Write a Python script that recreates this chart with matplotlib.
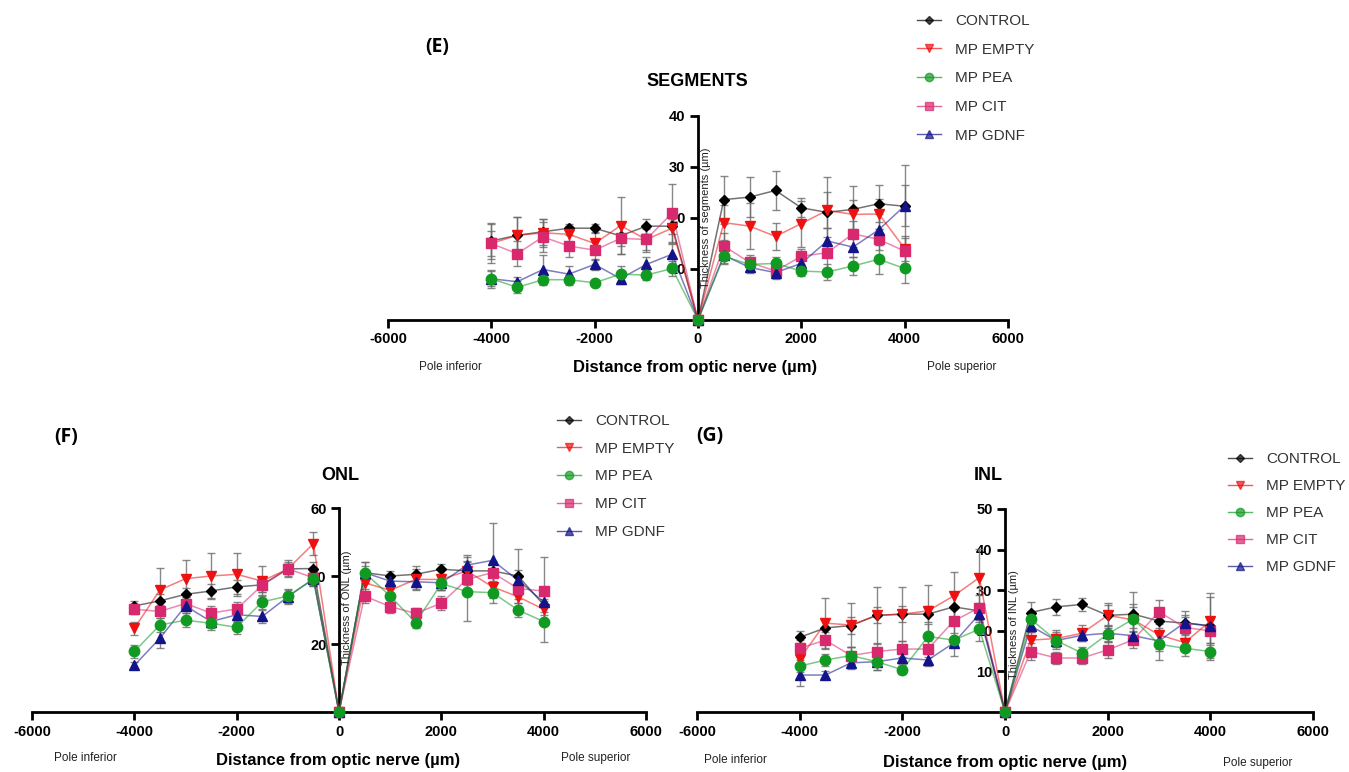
import matplotlib
matplotlib.use("Agg")
import matplotlib.pyplot as plt
from matplotlib.lines import Line2D
import numpy as np

W, H = 1349, 772

distance = [-4000, -3500, -3000, -2500, -2000, -1500, -1000, -500, 0,
            500, 1000, 1500, 2000, 2500, 3000, 3500, 4000]
groups = ["CONTROL", "MP EMPTY", "MP PEA", "MP CIT", "MP GDNF"]

# Panel E - SEGMENTS
seg_control = [15.5, 16.6, 17.3, 18.0, 18.0, 16.5, 18.4, 18.4, 0, 23.6, 24.1, 25.4, 22.0, 21.1, 21.7, 22.8, 22.3]
seg_control_sd = [3.5, 3.5, 2.5, 0.5, 0.8, 2.0, 1.5, 1.5, 0, 4.7, 4.0, 3.9, 1.9, 7.0, 4.5, 3.6, 8.0]
seg_empty = [15.0, 16.6, 17.1, 16.8, 15.0, 18.5, 15.8, 18.0, 0, 19.1, 18.4, 16.4, 18.9, 21.5, 20.7, 20.8, 14.0]
seg_empty_sd = [2.5, 3.6, 2.8, 2.0, 2.0, 5.6, 2.5, 3.0, 0, 3.5, 4.5, 2.6, 4.5, 3.5, 2.8, 3.0, 2.5]
seg_pea = [8.1, 6.4, 7.9, 7.9, 7.3, 9.0, 8.8, 10.1, 0, 12.5, 10.9, 11.1, 9.6, 9.4, 10.6, 11.9, 10.1]
seg_pea_sd = [1.5, 1.2, 1.0, 1.0, 0.6, 1.5, 1.0, 1.5, 0, 1.5, 1.2, 1.2, 1.0, 1.6, 1.8, 2.8, 2.8]
seg_cit = [15.0, 13.0, 16.3, 14.5, 13.7, 16.0, 15.8, 21.0, 0, 14.5, 11.3, 9.6, 12.5, 13.2, 16.9, 15.8, 13.5]
seg_cit_sd = [3.8, 2.5, 3.0, 2.2, 2.0, 3.0, 2.0, 5.7, 0, 2.5, 1.5, 1.2, 1.5, 3.0, 2.5, 2.0, 2.5]
seg_gdnf = [8.1, 7.5, 9.9, 9.0, 10.9, 8.1, 10.9, 12.9, 0, 12.7, 10.3, 9.3, 11.1, 15.5, 14.3, 17.7, 22.4]
seg_gdnf_sd = [1.8, 1.0, 2.8, 1.6, 1.0, 1.0, 1.5, 2.0, 0, 1.5, 1.0, 1.2, 1.5, 2.5, 2.0, 3.0, 4.0]

# Panel F - ONL
onl_control = [31.2, 32.7, 34.6, 35.6, 36.8, 37.4, 42.1, 42.2, 0, 41.0, 40.0, 40.5, 42.0, 41.5, 41.5, 40.0, 31.5]
onl_control_sd = [1.5, 2, 2, 2, 2, 2, 1.5, 2, 0, 3, 1.5, 2.5, 1.5, 3, 3, 8, 3]
onl_empty = [24.6, 35.9, 39.2, 40.0, 40.5, 38.5, 42.1, 49.5, 0, 38.0, 35.8, 39.0, 39.0, 41.5, 36.8, 33.9, 30.2]
onl_empty_sd = [2, 6.5, 5.5, 6.8, 6.3, 4.4, 2.5, 3.4, 0, 3, 2.5, 3, 3, 4, 3, 3, 3]
onl_pea = [17.8, 25.6, 27.0, 26.1, 24.9, 32.4, 34.1, 39.0, 0, 41.0, 34.1, 26.3, 37.8, 35.4, 35.1, 30.0, 26.6]
onl_pea_sd = [2, 2, 2, 2, 2, 2, 2, 2, 0, 2, 2, 1.5, 2, 8.6, 3, 2, 6]
onl_cit = [30.2, 29.6, 31.9, 29.1, 30.3, 37.3, 42.1, 39.5, 0, 34.1, 31.0, 29.0, 32.0, 39.0, 41.0, 36.3, 35.6]
onl_cit_sd = [1.5, 2, 2, 2, 2, 2, 2, 2, 0, 2, 2, 1.5, 2, 3, 3, 3, 10]
onl_gdnf = [13.7, 21.7, 31.2, 26.6, 28.6, 28.1, 33.9, 39.2, 0, 41.0, 38.5, 38.3, 38.0, 43.2, 44.6, 38.7, 32.4]
onl_gdnf_sd = [1, 3, 2, 2, 2, 2, 2, 2, 0, 3, 2, 2, 2, 3, 11, 3, 3]

# Panel G - INL
inl_control = [18.4, 20.7, 21.3, 23.8, 24.1, 24.1, 25.9, 24.9, 0, 24.5, 25.9, 26.5, 23.8, 24.1, 22.4, 21.9, 21.2]
inl_control_sd = [1.5, 2, 2, 2, 2, 2, 3, 2, 0, 2.5, 2, 1.5, 2.5, 5.5, 3, 3, 8]
inl_empty = [13.1, 21.9, 21.4, 23.8, 24.1, 24.9, 28.6, 33.1, 0, 17.7, 18.1, 19.4, 23.8, 22.7, 19.0, 17.1, 22.4]
inl_empty_sd = [2, 6.3, 5.5, 7, 6.7, 6.5, 6, 7, 0, 2, 2, 2, 3, 4, 4, 2, 6]
inl_pea = [11.3, 12.8, 13.9, 12.4, 10.4, 18.6, 17.7, 20.4, 0, 22.9, 17.6, 14.5, 19.2, 22.9, 16.7, 15.7, 14.9]
inl_pea_sd = [1.5, 1.5, 2, 2, 1, 3, 4, 3, 0, 2, 2, 1.5, 2, 3, 4, 2, 2]
inl_cit = [15.7, 17.7, 13.9, 14.9, 15.5, 15.5, 22.4, 25.7, 0, 14.9, 13.3, 13.3, 15.3, 17.8, 24.7, 20.8, 20.0]
inl_cit_sd = [2, 2, 2, 2, 2, 2, 3, 3, 0, 2, 1.5, 1.5, 2, 2, 3, 2.5, 3]
inl_gdnf = [9.1, 9.1, 12.1, 12.4, 13.3, 12.8, 17.0, 24.1, 0, 21.2, 17.6, 18.9, 19.4, 18.8, 17.5, 22.0, 21.2]
inl_gdnf_sd = [2.6, 1, 1.5, 2, 1.5, 1.5, 1, 2, 0, 1.5, 1.5, 1.5, 2, 2, 2, 2, 2]

x_ticks = [-6000, -4000, -2000, 0, 2000, 4000, 6000]

colors = {"CONTROL": "#000000", "MP EMPTY": "#ee1111", "MP PEA": "#119a22",
          "MP CIT": "#d8286e", "MP GDNF": "#14148a"}
markers = {"CONTROL": "D", "MP EMPTY": "v", "MP PEA": "o", "MP CIT": "s", "MP GDNF": "^"}
msizes = {"CONTROL": 5, "MP EMPTY": 7, "MP PEA": 7.5, "MP CIT": 7, "MP GDNF": 7}
draw_order = ["CONTROL", "MP EMPTY", "MP CIT", "MP GDNF", "MP PEA"]

plt.rcParams['font.family'] = ['Liberation Sans', 'DejaVu Sans']

fig = plt.figure(figsize=(W / 100, H / 100), dpi=100)


def ft(xp, yp, s, **kw):
    fig.text(xp / W, 1 - yp / H, s, **kw)


def make_axes(x_left, x_right, y_zero, y_top):
    return fig.add_axes([x_left / W, 1 - y_zero / H, (x_right - x_left) / W, (y_zero - y_top) / H])


def draw_panel(ax, data, ymax, yticks):
    for g in draw_order:
        y, sd = data[g]
        c = colors[g]
        ax.errorbar(distance, y, yerr=sd, fmt='none', ecolor='#6a6a6a', elinewidth=1.0,
                    capsize=3, capthick=1.0, alpha=0.8, zorder=2, clip_on=False)
        ax.plot(distance, y, '-', color=c, lw=1.1, alpha=0.55, zorder=3, clip_on=False)
        ax.plot(distance, y, linestyle='none', marker=markers[g], ms=msizes[g], color=c,
                mec=c, zorder=4, clip_on=False)
    ax.set_xlim(-6000, 6000)
    ax.set_ylim(0, ymax)
    ax.spines['top'].set_visible(False)
    ax.spines['right'].set_visible(False)
    ax.spines['left'].set_position(('data', 0))
    ax.spines['left'].set_linewidth(2)
    ax.spines['bottom'].set_linewidth(2)
    ax.set_xticks(x_ticks)
    ax.set_xticklabels([str(t) for t in x_ticks])
    ax.set_yticks(yticks)
    ax.set_yticklabels([str(t) for t in yticks])
    ax.tick_params(axis='both', width=2, length=6, direction='out', labelsize=10.5, pad=3)
    for lab in ax.get_xticklabels() + ax.get_yticklabels():
        lab.set_fontweight('bold')
    ax.patch.set_alpha(0)


def draw_legend(xp, yp, spacing):
    handles = [Line2D([0], [0], color=colors[g], lw=1.0, alpha=0.7, marker=markers[g],
                      ms=msizes[g] * 0.8, mfc=colors[g], mec=colors[g]) for g in groups]
    fig.legend(handles, groups, loc='upper left', bbox_to_anchor=(xp / W, 1 - yp / H),
               frameon=False, fontsize=11, labelspacing=spacing, handlelength=1.6,
               handletextpad=0.9, borderpad=0, borderaxespad=0, labelcolor='#333333')


# ---- Panel E ----
axE = make_axes(388, 1008, 320, 116)
draw_panel(axE, {"CONTROL": (seg_control, seg_control_sd), "MP EMPTY": (seg_empty, seg_empty_sd),
                 "MP PEA": (seg_pea, seg_pea_sd), "MP CIT": (seg_cit, seg_cit_sd),
                 "MP GDNF": (seg_gdnf, seg_gdnf_sd)}, 40, [10, 20, 30, 40])
ft(437, 47, "(E)", fontsize=14, fontweight='bold', ha='center', va='center', family=['Open Sans', 'DejaVu Sans'])
ft(697, 82, "SEGMENTS", fontsize=13, fontweight='bold', ha='center', va='center')
ft(706, 218, "Thickness of segments (µm)", fontsize=8, rotation=90, ha='center', va='center', color='#222222')
ft(695, 368, "Distance from optic nerve (µm)", fontsize=12, fontweight='bold', ha='center', va='center')
ft(450, 367, "Pole inferior", fontsize=8.5, ha='center', va='center', color='#222222')
ft(962, 367, "Pole superior", fontsize=8.5, ha='center', va='center', color='#222222')
draw_legend(917, 14, 0.96)

# ---- Panel F ----
axF = make_axes(32, 646, 712, 508)
draw_panel(axF, {"CONTROL": (onl_control, onl_control_sd), "MP EMPTY": (onl_empty, onl_empty_sd),
                 "MP PEA": (onl_pea, onl_pea_sd), "MP CIT": (onl_cit, onl_cit_sd),
                 "MP GDNF": (onl_gdnf, onl_gdnf_sd)}, 60, [20, 40, 60])
ft(66, 437, "(F)", fontsize=14, fontweight='bold', ha='center', va='center', family=['Open Sans', 'DejaVu Sans'])
ft(340, 476, "ONL", fontsize=13, fontweight='bold', ha='center', va='center')
ft(347, 608, "Thickness of ONL (µm)", fontsize=8, rotation=90, ha='center', va='center', color='#222222')
ft(338, 760, "Distance from optic nerve (µm)", fontsize=12, fontweight='bold', ha='center', va='center')
ft(85, 758, "Pole inferior", fontsize=8.5, ha='center', va='center', color='#222222')
ft(596, 758, "Pole superior", fontsize=8.5, ha='center', va='center', color='#222222')
draw_legend(557, 414, 0.90)

# ---- Panel G ----
axG = make_axes(697, 1313, 712, 509)
draw_panel(axG, {"CONTROL": (inl_control, inl_control_sd), "MP EMPTY": (inl_empty, inl_empty_sd),
                 "MP PEA": (inl_pea, inl_pea_sd), "MP CIT": (inl_cit, inl_cit_sd),
                 "MP GDNF": (inl_gdnf, inl_gdnf_sd)}, 50, [10, 20, 30, 40, 50])
ft(710, 436, "(G)", fontsize=14, fontweight='bold', ha='center', va='center', family=['Open Sans', 'DejaVu Sans'])
ft(988, 476, "INL", fontsize=13, fontweight='bold', ha='center', va='center')
ft(1014, 625, "Thickness of INL (µm)", fontsize=8, rotation=90, ha='center', va='center', color='#222222')
ft(1005, 762, "Distance from optic nerve (µm)", fontsize=12, fontweight='bold', ha='center', va='center')
ft(735, 760, "Pole inferior", fontsize=8.5, ha='center', va='center', color='#222222')
ft(1258, 763, "Pole superior", fontsize=8.5, ha='center', va='center', color='#222222')
draw_legend(1228, 452, 0.85)

fig.savefig("out.png", dpi=100)
